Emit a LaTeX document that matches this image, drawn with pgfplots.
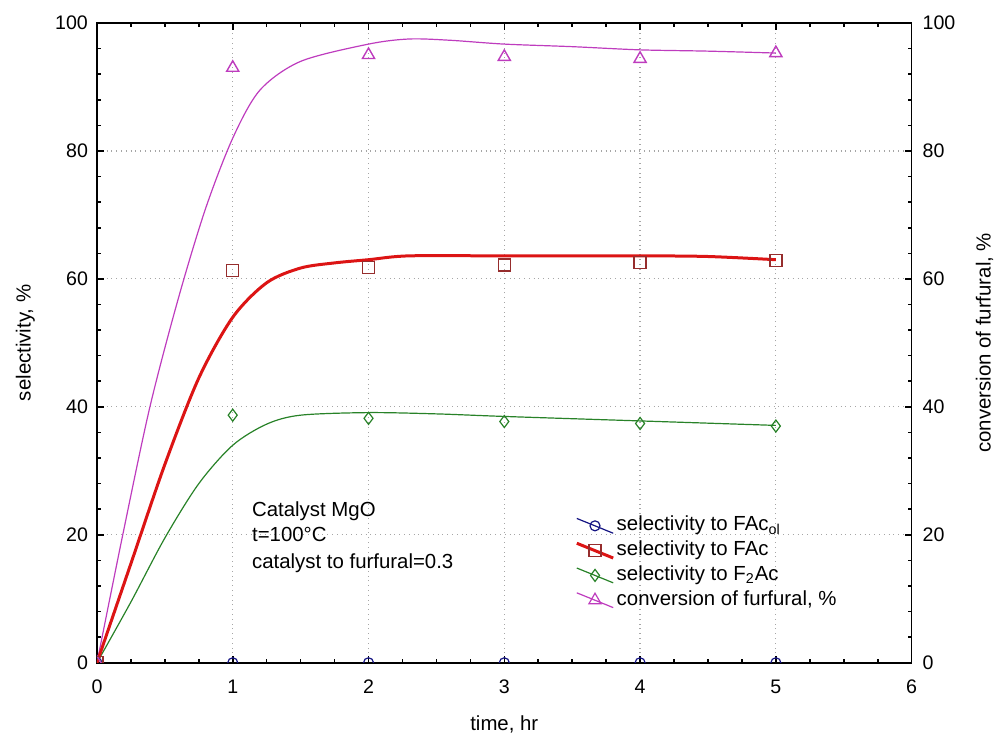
\documentclass[border=0pt]{standalone}
\usepackage{fontspec}
\setmainfont{Liberation Sans}
\usepackage{pgfplots}
\pgfplotsset{compat=1.18}

\definecolor{cblue}{RGB}{20,20,130}
\definecolor{cred}{RGB}{220,20,20}
\definecolor{cdred}{RGB}{150,45,45}
\definecolor{cgreen}{RGB}{40,130,40}
\definecolor{cmag}{RGB}{190,60,190}

\begin{document}
\begin{tikzpicture}
\pgfplotsset{
  common/.style={
    scale only axis, width=407.5pt, height=320pt,
    xmin=0, xmax=6, ymin=0, ymax=100,
    ytick={0,20,...,100}, minor y tick num=4,
    tick align=inside,
    major tick length=3.5pt, minor tick length=2pt,
    tick style={black, line width=0.8pt},
    axis line style={line width=0.8pt},
    /pgf/number format/assume math mode=true,
    ticklabel style={font=\fontsize{9.8}{11}\selectfont},
    label style={font=\fontsize{10.2}{12}\selectfont},
  },
  slant legend/.style={
    legend image code/.code={
      \draw[mark repeat=2,mark phase=2,##1] plot coordinates {(0cm,0.13cm) (0.32cm,0cm) (0.64cm,-0.13cm)};
    }
  },
}
\begin{axis}[common, name=ax,
  xtick={0,...,6}, minor x tick num=3,
  grid=major, grid style={dotted, gray!70, line width=0.6pt},
  xlabel={time, hr}, ylabel={selectivity, \%},
  xlabel style={at={(axis description cs:0.5,-0.097)}, anchor=center},
  ylabel style={at={(axis description cs:-0.088,0.5)}, anchor=center},
  xticklabel style={yshift=-5pt},
  yticklabel style={xshift=-1pt},
  clip marker paths=true,
  legend style={at={(axis cs:3.52,23.4)}, anchor=north west, draw=none, fill=none,
    inner sep=0pt, row sep=0pt,
    font=\fontsize{10.2}{12}\selectfont,
    nodes={inner sep=1pt, text height=7.6pt, text depth=2.8pt}},
  legend cell align=left,
]
% fitted curves
\addplot[cmag, line width=0.6pt, smooth, tension=0.5, forget plot] coordinates {
  (0,0) (0.19,20) (0.39,40) (0.6,57) (0.8,71) (1.0,82) (1.2,89.5)
  (1.5,94) (2,96.7) (2.3,97.5) (2.6,97.3) (3,96.7) (3.5,96.3) (4,95.8) (4.5,95.6) (5,95.3)
};
\addplot[cgreen, line width=0.6pt, smooth, tension=0.5, forget plot] coordinates {
  (0,0) (0.25,9.5) (0.5,19.5) (0.75,28) (1,34) (1.25,37.3) (1.5,38.7) (2,39.1)
  (2.5,38.9) (3,38.5) (4,37.8) (5,37.1)
};
\addplot[cred, line width=1.5pt, smooth, tension=0.5, forget plot] coordinates {
  (0,0) (0.25,15.5) (0.5,31) (0.75,44.5) (1,54) (1.25,59.4) (1.5,61.7) (1.75,62.5)
  (2,63) (2.3,63.6) (3,63.6) (4,63.6) (4.5,63.5) (5,63)
};
% measured points
\addplot[only marks, mark=o, mark size=2.5pt, mark options={draw=cblue, fill=white, line width=0.6pt}, forget plot]
  coordinates {(0,0) (1,0) (2,0) (3,0) (4,0) (5,0)};
\addplot[only marks, mark=diamond, mark size=3pt, mark options={draw=cgreen, fill=white, line width=0.6pt}, forget plot]
  coordinates {(0,0) (1,38.7) (2,38.2) (3,37.7) (4,37.4) (5,37.0)};
\addplot[only marks, mark=triangle, mark size=3.5pt, mark options={draw=cmag, fill=white, line width=0.7pt}, forget plot]
  coordinates {(0,0) (1,93.0) (2,95.0) (3,94.7) (4,94.4) (5,95.3)};
\addplot[only marks, mark=square, mark size=3pt, mark options={draw=cdred, fill=white, line width=0.7pt}, forget plot]
  coordinates {(0,0) (1,61.3) (2,61.8) (3,62.2) (4,62.6) (5,62.9)};
% legend
\addlegendimage{slant legend, cblue, line width=0.6pt, mark=o, mark size=2.5pt, mark options={fill=white}}
\addlegendentry{selectivity to FAc\textsubscript{ol}}
\addlegendimage{slant legend, cred, line width=1.5pt, mark=square, mark size=3pt, mark options={draw=cdred, fill=white, line width=0.7pt}}
\addlegendentry{selectivity to FAc}
\addlegendimage{slant legend, cgreen, line width=0.6pt, mark=diamond, mark size=3pt, mark options={fill=white}}
\addlegendentry{selectivity to F\textsubscript{2}Ac}
\addlegendimage{slant legend, cmag, line width=0.6pt, mark=triangle, mark size=3.5pt, mark options={fill=white}}
\addlegendentry{conversion of furfural, \%}
% annotation
\node[anchor=base west, inner sep=0pt, font=\fontsize{10.2}{12}\selectfont] at (axis cs:1.14,22.8) {Catalyst MgO};
\node[anchor=base west, inner sep=0pt, font=\fontsize{10.2}{12}\selectfont] at (axis cs:1.14,18.9) {t=100°C};
\node[anchor=base west, inner sep=0pt, font=\fontsize{10.2}{12}\selectfont] at (axis cs:1.14,14.8) {catalyst to furfural=0.3};
\end{axis}
\begin{axis}[common,
  axis x line=none, axis y line*=right,
  ylabel={conversion of furfural, \%},
  ylabel style={at={(axis description cs:1.0896,0.5)}, anchor=center},
  yticklabel style={xshift=2pt},
]
\addplot[draw=none] coordinates {(0,0)};
\end{axis}
\path (ax.south west) ++(-48.5pt,-41pt) rectangle ++(500pt,372.5pt);
\end{tikzpicture}
\end{document}
